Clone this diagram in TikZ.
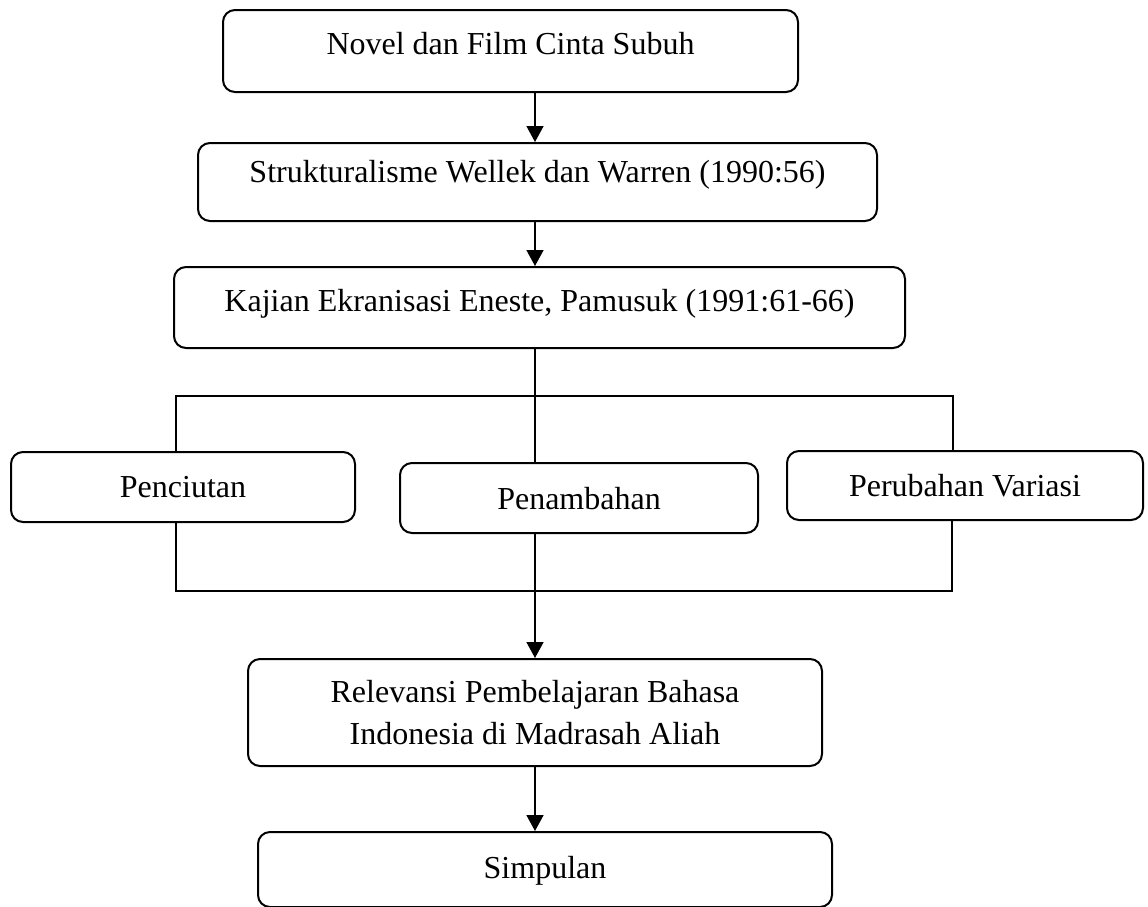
\documentclass[tikz,border=0pt]{standalone}
\usepackage{fontspec}
\setmainfont{Liberation Serif}
\usetikzlibrary{arrows.meta}
\begin{document}
\begin{tikzpicture}[x=1pt,y=-1pt,
  box/.style={draw, line width=2pt, rounded corners=12pt, inner sep=0pt,
    font=\fontsize{32}{42}\selectfont},
  link/.style={line width=1.6pt},
  arr/.style={link, -{Triangle[width=17pt,length=16pt]}}]
\useasboundingbox (0,0) rectangle (1148,906);

\node[box, minimum width=575pt, minimum height=82pt, text height=22pt, text depth=16pt]
  (n1) at (510.5,51) {Novel dan Film Cinta Subuh};
\node[box, minimum width=679pt, minimum height=78pt, text height=20pt, text depth=20pt]
  (n2) at (537.5,182) {Strukturalisme Wellek dan Warren (1990:56)};
\node[box, minimum width=731pt, minimum height=81pt, text height=22pt, text depth=15pt]
  (n3) at (539.5,307.5) {Kajian Ekranisasi Eneste, Pamusuk (1991:61-66)};

\node[box, minimum width=344pt, minimum height=70pt, text depth=0pt]
  (p1) at (183,487) {Penciutan};
\node[box, minimum width=358pt, minimum height=70pt, text depth=0pt]
  (p2) at (579,498) {Penambahan};
\node[box, minimum width=356pt, minimum height=69pt, text depth=0pt]
  (p3) at (965,485.5) {Perubahan Variasi};

\node[box, minimum width=574pt, minimum height=107pt, align=center]
  (r) at (535,712.5) {Relevansi Pembelajaran Bahasa\\Indonesia di Madrasah Aliah};
\node[box, minimum width=574pt, minimum height=75pt, text height=22pt, text depth=4pt]
  (s) at (545,869.5) {Simpulan};

\coordinate (tl) at (176,396);
\coordinate (tr) at (953,396);
\coordinate (bl) at (176,591);
\coordinate (br) at (952,591);

\draw[arr] (n1.south -| r.center) -- (n2.north -| r.center);
\draw[arr] (n2.south -| r.center) -- (n3.north -| r.center);
\draw[link] (n3.south -| r.center) -- (p2.north -| r.center);
\draw[link] (p1.north -| tl) -- (tl) -- (tr) -- (p3.north -| tr);
\draw[link] (p1.south -| bl) -- (bl) -- (br) -- (p3.south -| br);
\draw[arr] (p2.south -| r.center) -- (r.north);
\draw[arr] (r.south) -- (s.north -| r.center);
\end{tikzpicture}
\end{document}
